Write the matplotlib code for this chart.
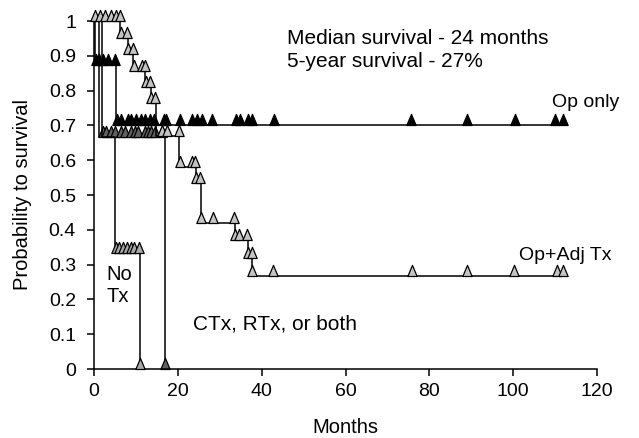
import numpy as np
import matplotlib
matplotlib.use("Agg")
import matplotlib.pyplot as plt
from matplotlib.path import Path

plt.rcParams['font.family'] = ['Liberation Sans', 'DejaVu Sans']

# ---- data (months, survival probability) ----
# Op+Adj Tx
opadj_times = [0, 6.2, 8.0, 9.3, 12.2, 13.5, 14.8, 20.3, 24.3, 25.5, 33.6, 36.7, 37.7]
opadj_surv = [1.0, 0.95, 0.905, 0.855, 0.81, 0.765, 0.67, 0.58, 0.535, 0.42, 0.37, 0.32, 0.267]
opadj_end = 112.0
opadj_cens = [0.2, 1.4, 2.6, 4.0, 5.2, 6.1, 6.4, 7.9, 8.2, 9.2, 9.5, 11.4, 12.1,
              12.4, 13.3, 13.7, 14.6, 16.3, 17.5, 20.2, 20.4, 23.3, 24.1, 24.4, 25.3,
              25.6, 28.4, 33.5, 33.7, 34.6, 36.6, 36.8, 37.6, 37.8, 42.8, 75.8, 89.0,
              100.3, 110.4, 112.0]

# Op only
oponly_times = [0, 0.3, 5.3]
oponly_surv = [1.0, 0.875, 0.70]
oponly_end = 112.0
oponly_cens = [0.5, 1.1, 2.2, 3.3, 5.0, 5.6, 6.5, 8.0, 8.9, 10.1, 11.2, 12.1, 13.3, 14.3,
               16.6, 17.2, 20.4, 23.3, 24.5, 25.7, 28.2, 33.8, 34.8, 36.8, 37.6, 43.0,
               75.7, 89.1, 100.4, 110.0, 111.9]

# CTx, RTx, or both
ctx_times = [0, 1.2, 17.0]
ctx_surv = [1.0, 0.667, 0.0]
ctx_end = 17.0
ctx_cens = [2.2, 2.9, 4.1, 4.9, 6.5, 7.3, 8.8, 9.7, 10.5, 12.1, 12.9, 13.7, 14.5, 16.3, 17.0]

# No Tx
notx_times = [0, 1.8, 5.0, 11.0]
notx_surv = [1.0, 0.667, 0.333, 0.0]
notx_end = 11.0
notx_cens = [5.2, 5.9, 7.0, 7.9, 8.8, 9.5, 10.8, 11.0]

xticks = [0, 20, 40, 60, 80, 100, 120]
yticks = [0, 0.1, 0.2, 0.3, 0.4, 0.5, 0.6, 0.7, 0.8, 0.9, 1.0]
ytick_labels = ['0', '0.1', '0.2', '0.3', '0.4', '0.5', '0.6', '0.7', '0.8', '0.9', '1']

# ---- figure ----
fig = plt.figure(figsize=(6.39, 4.38), dpi=100)
ax = fig.add_axes([94 / 639, (438 - 369) / 438, (597 - 94) / 639, (369 - 21) / 438])

tri = Path([(-0.42, 0.0), (0.42, 0.0), (0.0, 1.0), (-0.42, 0.0)],
           [Path.MOVETO, Path.LINETO, Path.LINETO, Path.CLOSEPOLY])


def km(times, surv, end, cens, color, z):
    t = list(times) + [end]
    s = list(surv) + [surv[-1]]
    ax.step(t, s, where='post', color='black', lw=1.1, zorder=z, clip_on=False)
    times_a = np.array(times)
    lv = [surv[np.searchsorted(times_a, c, side='right') - 1] for c in cens]
    ax.plot(cens, lv, ls='none', marker=tri, ms=16, mfc=color, mec='black',
            mew=0.9, zorder=z + 0.5, clip_on=False)


km(ctx_times, ctx_surv, ctx_end, ctx_cens, '#606060', 2)
km(notx_times, notx_surv, notx_end, notx_cens, '#a8a8a8', 3)
km(oponly_times, oponly_surv, oponly_end, oponly_cens, 'black', 4)
km(opadj_times, opadj_surv, opadj_end, opadj_cens, '#c4c4c4', 5)

ax.set_xlim(0, 120)
ax.set_ylim(0, 1)
ax.set_xticks(xticks)
ax.set_yticks(yticks)
ax.set_yticklabels(ytick_labels)
ax.spines['top'].set_visible(False)
ax.spines['right'].set_visible(False)
for sp in ('left', 'bottom'):
    ax.spines[sp].set_linewidth(1.1)
ax.tick_params(direction='out', length=5, width=1.1, labelsize=14)
ax.tick_params(axis='y', pad=8)
ax.tick_params(axis='x', pad=5)
ax.set_xlabel('Months', fontsize=14.5, labelpad=13)
ax.set_ylabel('Probability to survival', fontsize=14.5, labelpad=12)

ax.text(46, 0.95, 'Median survival - 24 months', fontsize=15, va='center')
ax.text(46, 0.883, '5-year survival - 27%', fontsize=15, va='center')
ax.text(109.2, 0.765, 'Op only', fontsize=14, ha='left', va='center')
ax.text(101.3, 0.325, 'Op+Adj Tx', fontsize=14, ha='left', va='center')
ax.text(3, 0.24, 'No\nTx', fontsize=14.5, ha='left', va='center', linespacing=1.25)
ax.text(23.5, 0.13, 'CTx, RTx, or both', fontsize=15, ha='left', va='center')

fig.savefig('out.png', dpi=100)
